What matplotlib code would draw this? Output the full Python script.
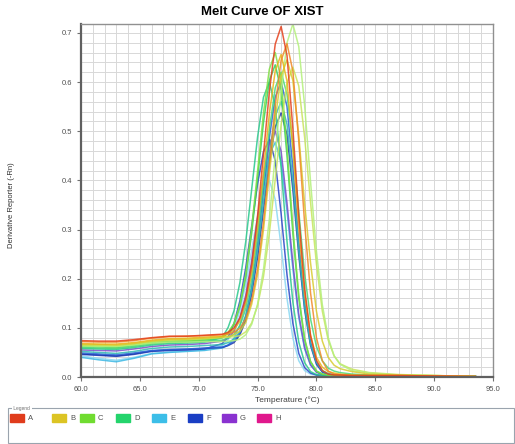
import matplotlib
matplotlib.use("Agg")
import matplotlib.pyplot as plt
from matplotlib.patches import Rectangle
from matplotlib.ticker import MultipleLocator

plt.rcParams['font.family'] = ['Liberation Sans', 'DejaVu Sans']

# temperature grid shared by all wells (deg C)
temps = [60, 61.5, 63, 64.5, 66, 67.5, 69, 70.5, 72,
         72.5, 73, 73.5, 74, 74.5, 75, 75.5, 76, 76.5, 77,
         77.5, 78, 78.5, 79, 79.5, 80, 80.5, 81, 81.5, 82,
         83, 84.5, 87, 90, 93.5]

# derivative reporter values, one list per well
a1 = [0.074, 0.073, 0.073, 0.076, 0.080, 0.083, 0.083, 0.085, 0.087,
      0.091, 0.100, 0.120, 0.160, 0.228, 0.328, 0.453, 0.580, 0.677, 0.713,
      0.654, 0.505, 0.328, 0.180, 0.084, 0.034, 0.013, 0.006, 0.004, 0.004,
      0.003, 0.003, 0.003, 0.002, 0.001]
a2 = [0.072, 0.071, 0.071, 0.074, 0.079, 0.082, 0.083, 0.084, 0.086,
      0.088, 0.091, 0.099, 0.118, 0.156, 0.220, 0.315, 0.433, 0.552, 0.644,
      0.678, 0.622, 0.480, 0.312, 0.171, 0.080, 0.033, 0.012, 0.006, 0.004,
      0.003, 0.003, 0.003, 0.002, 0.001]
b1 = [0.068, 0.067, 0.067, 0.070, 0.075, 0.078, 0.079, 0.081, 0.083,
      0.088, 0.096, 0.114, 0.151, 0.213, 0.304, 0.419, 0.535, 0.623, 0.656,
      0.602, 0.465, 0.302, 0.168, 0.085, 0.040, 0.020, 0.011, 0.008, 0.006,
      0.004, 0.003, 0.003, 0.002, 0.001]
b2 = [0.066, 0.066, 0.065, 0.068, 0.073, 0.076, 0.077, 0.079, 0.081,
      0.083, 0.086, 0.093, 0.111, 0.148, 0.208, 0.299, 0.412, 0.525, 0.612,
      0.645, 0.603, 0.491, 0.352, 0.232, 0.134, 0.073, 0.040, 0.024, 0.017,
      0.011, 0.006, 0.004, 0.003, 0.001]
c1 = [0.063, 0.062, 0.062, 0.065, 0.069, 0.071, 0.071, 0.072, 0.072,
      0.073, 0.074, 0.077, 0.086, 0.107, 0.148, 0.218, 0.321, 0.451, 0.581,
      0.680, 0.718, 0.672, 0.552, 0.397, 0.256, 0.147, 0.080, 0.043, 0.026,
      0.013, 0.008, 0.004, 0.003, 0.001]
c2 = [0.064, 0.063, 0.062, 0.066, 0.071, 0.073, 0.074, 0.076, 0.082,
      0.091, 0.109, 0.147, 0.210, 0.303, 0.419, 0.537, 0.626, 0.660, 0.605,
      0.468, 0.304, 0.167, 0.078, 0.032, 0.012, 0.006, 0.004, 0.003, 0.003,
      0.003, 0.003, 0.002, 0.002, 0.001]
c3 = [0.065, 0.064, 0.064, 0.067, 0.072, 0.075, 0.076, 0.078, 0.080,
      0.081, 0.082, 0.084, 0.092, 0.110, 0.145, 0.204, 0.292, 0.402, 0.513,
      0.598, 0.630, 0.592, 0.487, 0.355, 0.230, 0.134, 0.075, 0.043, 0.027,
      0.016, 0.009, 0.005, 0.003, 0.001]
d1 = [0.062, 0.061, 0.060, 0.064, 0.069, 0.072, 0.073, 0.075, 0.080,
      0.089, 0.107, 0.143, 0.203, 0.292, 0.404, 0.517, 0.603, 0.635, 0.583,
      0.450, 0.292, 0.160, 0.075, 0.031, 0.012, 0.006, 0.004, 0.003, 0.003,
      0.003, 0.003, 0.002, 0.002, 0.001]
d2 = [0.058, 0.057, 0.056, 0.060, 0.065, 0.068, 0.069, 0.071, 0.080,
      0.101, 0.135, 0.192, 0.276, 0.382, 0.488, 0.569, 0.600, 0.550, 0.425,
      0.276, 0.152, 0.071, 0.029, 0.011, 0.005, 0.003, 0.003, 0.003, 0.003,
      0.003, 0.002, 0.002, 0.002, 0.001]
d3 = [0.060, 0.059, 0.058, 0.062, 0.067, 0.070, 0.071, 0.073, 0.075,
      0.079, 0.087, 0.104, 0.139, 0.198, 0.285, 0.394, 0.504, 0.588, 0.620,
      0.575, 0.470, 0.336, 0.210, 0.118, 0.062, 0.033, 0.018, 0.012, 0.009,
      0.006, 0.004, 0.003, 0.002, 0.001]
e1 = [0.040, 0.035, 0.031, 0.038, 0.047, 0.050, 0.052, 0.054, 0.059,
      0.065, 0.079, 0.106, 0.151, 0.218, 0.303, 0.388, 0.453, 0.477, 0.438,
      0.338, 0.220, 0.121, 0.057, 0.024, 0.010, 0.005, 0.003, 0.003, 0.003,
      0.002, 0.002, 0.002, 0.002, 0.001]
e2 = [0.043, 0.038, 0.034, 0.040, 0.048, 0.051, 0.053, 0.055, 0.064,
      0.076, 0.097, 0.135, 0.189, 0.258, 0.327, 0.380, 0.400, 0.361, 0.266,
      0.160, 0.079, 0.033, 0.013, 0.006, 0.004, 0.003, 0.003, 0.003, 0.002,
      0.002, 0.002, 0.002, 0.001, 0.001]
e3 = [0.052, 0.050, 0.048, 0.052, 0.058, 0.061, 0.062, 0.064, 0.066,
      0.070, 0.077, 0.093, 0.124, 0.178, 0.257, 0.356, 0.455, 0.531, 0.560,
      0.514, 0.397, 0.258, 0.142, 0.067, 0.030, 0.013, 0.007, 0.005, 0.004,
      0.003, 0.003, 0.002, 0.002, 0.001]
f1 = [0.049, 0.047, 0.045, 0.049, 0.054, 0.056, 0.057, 0.059, 0.061,
      0.065, 0.073, 0.090, 0.125, 0.183, 0.269, 0.377, 0.486, 0.569, 0.600,
      0.550, 0.425, 0.276, 0.152, 0.071, 0.029, 0.011, 0.005, 0.004, 0.003,
      0.003, 0.003, 0.002, 0.002, 0.001]
f2 = [0.047, 0.045, 0.043, 0.047, 0.053, 0.055, 0.056, 0.058, 0.060,
      0.064, 0.070, 0.086, 0.116, 0.168, 0.244, 0.340, 0.436, 0.509, 0.537,
      0.493, 0.381, 0.248, 0.136, 0.064, 0.026, 0.010, 0.005, 0.004, 0.003,
      0.003, 0.003, 0.002, 0.002, 0.001]
f3 = [0.046, 0.044, 0.042, 0.046, 0.052, 0.054, 0.055, 0.057, 0.068,
      0.082, 0.109, 0.155, 0.223, 0.307, 0.393, 0.458, 0.483, 0.440, 0.332,
      0.208, 0.109, 0.048, 0.019, 0.008, 0.004, 0.003, 0.003, 0.003, 0.003,
      0.002, 0.002, 0.002, 0.002, 0.001]
g1 = [0.055, 0.054, 0.053, 0.057, 0.062, 0.065, 0.066, 0.068, 0.073,
      0.079, 0.093, 0.121, 0.167, 0.236, 0.322, 0.409, 0.475, 0.500, 0.459,
      0.354, 0.231, 0.127, 0.060, 0.025, 0.010, 0.005, 0.003, 0.003, 0.003,
      0.002, 0.002, 0.002, 0.002, 0.001]

# drawing order: back to front
curves = [e2, e1, f3, f2, f1, g1, e3, d2, d1, d3, c2, c3, c1, b2, b1, a2, a1]
curve_colors = ['#8ad8f2', '#3cb8e4', '#2846c8', '#1c34a4', '#2a64d8', '#7a4cc8',
                '#30b8b4', '#28c88c', '#34d05c', '#48d878', '#80e044', '#c8e45c',
                '#b4f07c', '#d8cc30', '#e8b418', '#f08a28', '#e4401c']

legend_rows = ['A', 'B', 'C', 'D', 'E', 'F', 'G', 'H']
legend_colors = ['#e03c1c', '#dcc424', '#70dc30', '#24d46c', '#3cbee8', '#1a3ec4',
                 '#8a32d0', '#e0188c']

W, H = 515, 444
fig = plt.figure(figsize=(W / 100, H / 100), dpi=100)
ax = fig.add_axes([81 / W, 1 - 377 / H, (493 - 81) / W, (377 - 24) / H])

for vals, col in zip(curves, curve_colors):
    ax.plot(temps, vals, color=col, lw=1.1, alpha=0.85)

ax.set_xlim(60, 95)
ax.set_ylim(0, 0.718)
ax.xaxis.set_minor_locator(MultipleLocator(1))
ax.yaxis.set_minor_locator(MultipleLocator(0.02))
ax.set_xticks(range(60, 96, 5))
ax.set_xticklabels([f'{v:.1f}' for v in range(60, 96, 5)])
ax.set_yticks([i / 10 for i in range(8)])
ax.set_yticklabels([f'{i / 10:.1f}' for i in range(8)])
ax.grid(which='both', color='#d8d8d8', lw=0.7)
ax.set_axisbelow(True)
ax.tick_params(which='major', labelsize=5.5, length=3, color='#707070', labelcolor='#505050')
ax.tick_params(which='minor', length=0)
for side in ['left', 'bottom']:
    ax.spines[side].set_color('#606060')
    ax.spines[side].set_linewidth(1.6)
for side in ['top', 'right']:
    ax.spines[side].set_color('#909090')
    ax.spines[side].set_linewidth(1.0)

fig.text(262 / W, 1 - 12 / H, 'Melt Curve OF XIST', ha='center', va='center',
         fontsize=9.5, fontweight='bold')
fig.text(12 / W, 1 - 205 / H, 'Derivative Reporter (-Rn)', rotation=90,
         ha='center', va='center', fontsize=5.5, color='#303030')
fig.text(287 / W, 1 - 400 / H, 'Temperature (°C)', ha='center', va='center',
         fontsize=6, color='#404040')

# legend box along the bottom
fig.patches.append(Rectangle((8 / W, 1 - 443 / H), 506 / W, 35 / H,
                             transform=fig.transFigure, fill=False,
                             ec='#9aa4ae', lw=0.8))
fig.text(12 / W, 1 - 408 / H, ' Legend ', fontsize=3.5, color='#707070',
         va='center', ha='left',
         bbox=dict(fc='white', ec='none', pad=0.3))
patch_x = [10, 52, 80, 116, 152, 188, 222, 257]
for lab, col, px in zip(legend_rows, legend_colors, patch_x):
    fig.patches.append(Rectangle((px / W, 1 - 422 / H), 14 / W, 8 / H,
                                 transform=fig.transFigure, color=col))
    fig.text((px + 18) / W, 1 - 418 / H, lab, fontsize=5.5, color='#505050',
             va='center', ha='left')

fig.savefig('out.png', dpi=100)
